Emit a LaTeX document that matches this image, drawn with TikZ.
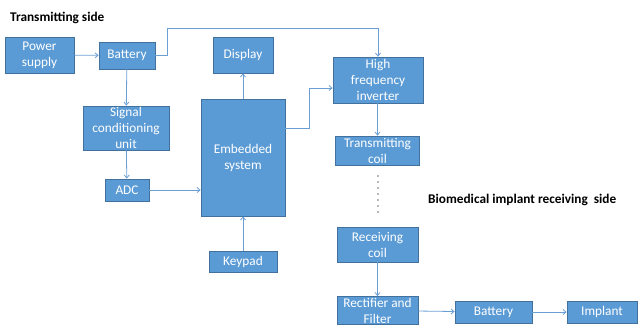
\documentclass[tikz,border=0pt]{standalone}
\usepackage{fontspec}
\setmainfont{Carlito}
\usepackage{tikz}
\usetikzlibrary{arrows.meta, positioning, calc}
\definecolor{boxfill}{HTML}{5B9BD5}
\definecolor{boxline}{HTML}{41719C}
\definecolor{linkblue}{HTML}{6A9FD6}

\begin{document}
\begin{tikzpicture}[
        x=1pt, y=-1pt,
        % block style: width and height given as arguments
        box/.style 2 args={
            rectangle,
            draw=boxline,
            fill=boxfill,
            line width=0.8pt,
            minimum width=#1,
            minimum height=#2,
            inner sep=0pt,
            align=center,
            text=white,
            font=\fontsize{13.3}{16}\selectfont
        },
        % connector style
        arrow/.style={
            -{Straight Barb[length=3pt, width=5pt]},
            line width=0.8pt,
            draw=linkblue
        },
        heading/.style={
            anchor=west,
            inner sep=0pt,
            font=\fontsize{13.3}{16}\selectfont\bfseries
        }
    ]
    \useasboundingbox (0,0) rectangle (638,325);

    % ================= headings =================
    \node[heading] (txlabel) at (10,18) {Transmitting side};
    \node[heading] (rxlabel) at (428,200) {Biomedical implant receiving\ \ side};

    % ================= transmitting side =================
    \node[box={69pt}{36pt}] (psu) at (39.5,55) {Power\\supply};
    \node[box={56pt}{27pt}] (bat) at (127,55.5) {Battery};
    \node[box={86pt}{44pt}] (scu) at (126,128) {Signal\\conditioning\\unit};
    \node[box={44pt}{22pt}] (adc) at (127,190) {ADC};
    \node[box={60pt}{36pt}] (disp) at (243,55) {Display};
    \node[box={84pt}{117pt}] (emb) at (243,157.5) {Embedded\\system};
    \node[box={68pt}{21pt}] (keypad) at (243,261.5) {Keypad};
    \node[box={90pt}{46pt}] (hfi) at (378,80) {High\\frequency\\inverter};
    \node[box={84pt}{29pt}] (txcoil) at (377.5,150.5) {Transmitting\\coil};

    % ================= receiving side =================
    \node[box={81pt}{35pt}] (rxcoil) at (377.5,244.5) {Receiving\\coil};
    \node[box={81pt}{28pt}] (rect) at (377.5,310.5) {Rectifier and\\Filter};
    \node[box={77pt}{22pt}] (bat2) at (493.5,312) {Battery};
    \node[box={70pt}{22pt}] (implant) at (602,312) {Implant};

    % ================= connectors =================
    \draw[arrow] (psu) -- (bat);
    \draw[arrow] (bat.east) -- ++(12,0) |- ([yshift=28pt]hfi.north) -- (hfi.north);
    \draw[arrow] (bat) -- (scu);
    \draw[arrow] (scu) -- (adc);
    \draw[arrow] (adc.east) -- (adc.east -| emb.west);
    \draw[arrow] (emb) -- (disp);
    \draw[arrow] (keypad) -- (emb);
    \draw[arrow] ([yshift=29.5pt]emb.east) -- ++(24,0) |- ([yshift=-8pt]hfi.west);
    \draw[arrow] (hfi.south -| txcoil.north) -- (txcoil.north);
    \draw[gray!55, line width=2pt, dash pattern=on 2pt off 4pt]
        ([yshift=-10pt]txcoil.south) -- ([yshift=10pt]rxcoil.north);
    \draw[arrow] (rxcoil) -- (rect);
    \draw[arrow] (rect) -- (bat2);
    \draw[arrow] (bat2) -- (implant);

\end{tikzpicture}
\end{document}
